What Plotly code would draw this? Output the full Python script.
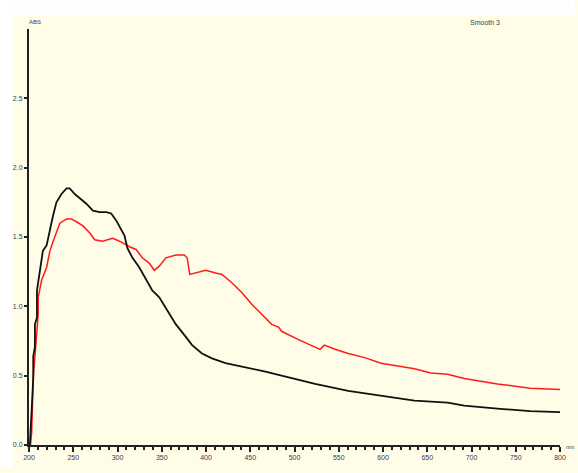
import plotly.graph_objects as go

# Black spectrum (wavelength nm, absorbance)
black_wl = [201, 201.7, 202.2, 204.8, 204.8, 206.7, 206.7, 209, 209, 212.4, 215.7, 219.9, 223.6, 227,
            231, 236.7, 242.4, 246, 251.7, 257.3, 264.8, 272.2, 279.8, 287.3, 292.9, 298.5, 302.2,
            307.9, 311.2, 316.9, 324.7, 332.2, 339.3, 347.2, 354.7, 366, 377.2, 384.3, 395.5, 406.7,
            422.1, 437.1, 451.7, 467.1, 485.4, 523.3, 560.7, 597.8, 635.6, 673, 691.8, 729.2, 766.3, 800]
black_abs = [0.0, 0.09, 0.20, 0.48, 0.64, 0.71, 0.87, 0.92, 1.115, 1.28, 1.40, 1.44, 1.56, 1.65,
             1.75, 1.81, 1.85, 1.85, 1.81, 1.78, 1.74, 1.69, 1.68, 1.68, 1.67, 1.62, 1.58,
             1.51, 1.42, 1.35, 1.28, 1.19, 1.115, 1.065, 0.99, 0.87, 0.78, 0.72, 0.66, 0.625,
             0.59, 0.57, 0.55, 0.53, 0.50, 0.44, 0.39, 0.355, 0.32, 0.305, 0.284, 0.263, 0.244, 0.237]

# Red spectrum
red_wl = [201.7, 203, 204.8, 207.9, 210.4, 210.4, 214.3, 219.9, 223.6, 227.3, 231.1, 234.8, 242.4,
          248, 253.6, 261, 268.5, 274.2, 283.1, 294.4, 298.5, 305.6, 313.5, 321, 328.1, 336, 341.6,
          347.2, 354.7, 366, 375.3, 378.7, 381.7, 388.4, 399.7, 410.9, 418, 429.2, 440.4, 451.7,
          462.9, 474.2, 482, 485.4, 504.5, 523.3, 528.9, 533.7, 545.7, 560.7, 579.4, 597.8, 616.9,
          635.6, 653.9, 673, 691.8, 729.2, 766.3, 800]
red_abs = [0.0, 0.09, 0.48, 0.71, 0.945, 1.065, 1.19, 1.28, 1.40, 1.47, 1.54, 1.60, 1.63,
           1.63, 1.61, 1.58, 1.53, 1.48, 1.47, 1.49, 1.48, 1.46, 1.43, 1.41, 1.35, 1.31, 1.26,
           1.29, 1.35, 1.37, 1.37, 1.35, 1.23, 1.24, 1.26, 1.24, 1.23, 1.17, 1.10, 1.015,
           0.94, 0.87, 0.85, 0.82, 0.76, 0.71, 0.69, 0.72, 0.69, 0.66, 0.63, 0.59, 0.57,
           0.55, 0.52, 0.51, 0.48, 0.44, 0.41, 0.40]

x_ticks = list(range(200, 801, 50))
y_ticks = [0.0, 0.5, 1.0, 1.5, 2.0, 2.5]

fig = go.Figure()
fig.add_trace(go.Scatter(x=red_wl, y=red_abs, mode="lines",
                         line=dict(color="#ff1a1a", width=1.5), showlegend=False))
fig.add_trace(go.Scatter(x=black_wl, y=black_abs, mode="lines",
                         line=dict(color="#111111", width=1.8), showlegend=False))

cream = "#FFFDE8"
L, R, T, B = 29, 15, 29, 23
W, H = 578, 473
pw, ph = W - L - R, H - T - B

fig.update_layout(
    width=W, height=H,
    margin=dict(l=L, r=R, t=T, b=B, pad=0),
    paper_bgcolor=cream, plot_bgcolor=cream,
    font=dict(family="Liberation Sans, Arial, sans-serif", size=7, color="#3a3a55"),
    xaxis=dict(range=[200, 800], tickvals=x_ticks, ticktext=[str(v) for v in x_ticks],
               showgrid=False, zeroline=False, showline=True, linecolor="#222", linewidth=2,
               ticks="outside", ticklen=5, tickwidth=2, tickcolor="#222",
               minor=dict(ticks="outside", dtick=10, tick0=200, ticklen=3, tickwidth=1.5,
                          tickcolor="#222", showgrid=False),
               tickfont=dict(size=7)),
    yaxis=dict(range=[0, 3.0], tickvals=y_ticks, ticktext=[f"{v:.1f}" for v in y_ticks],
               showgrid=False, zeroline=False, showline=True, linecolor="#222", linewidth=2,
               ticks="outside", ticklen=3, tickwidth=2, tickcolor="#222",
               tickfont=dict(size=7)),
    shapes=[
        # white strip at top
        dict(type="rect", xref="paper", yref="paper", x0=-L / pw, x1=1 + R / pw,
             y0=1 + (T - 15) / ph, y1=1 + T / ph, fillcolor="white", line=dict(width=0),
             layer="below"),
        # white strip at left
        dict(type="rect", xref="paper", yref="paper", x0=-L / pw, x1=-(L - 12) / pw,
             y0=-B / ph, y1=1 + T / ph, fillcolor="white", line=dict(width=0),
             layer="below"),
    ],
    annotations=[
        dict(text="ABS", xref="paper", yref="paper", x=(35 - L) / pw, y=1 + (T - 22) / ph,
             showarrow=False, xanchor="center", yanchor="middle", font=dict(size=6)),
        dict(text="Smooth 3", xref="paper", yref="paper", x=(488 - L) / pw, y=1 + (T - 22) / ph,
             showarrow=False, xanchor="center", yanchor="middle", font=dict(size=7)),
        dict(text="nm", xref="paper", yref="paper", x=(573 - L) / pw, y=-(452 - 450) / ph,
             showarrow=False, xanchor="center", yanchor="middle", font=dict(size=6)),
    ],
)

fig.write_html("out.html")
